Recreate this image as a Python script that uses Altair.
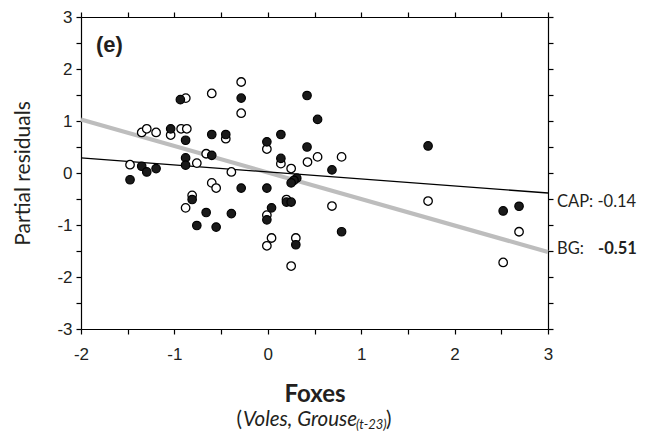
import altair as alt
import pandas as pd

# ---- data ----
open_x = [-0.285, -0.60, -0.878, -0.285, -1.35, -1.296, -1.196, -1.04, -0.928, -0.867,
          -0.45, -0.01, 0.533, 0.425, 0.79, -0.66, -0.76, 0.14, 0.25, -1.475,
          -0.39, -0.60, -0.553, -0.81, -0.88, 0.20, -0.01, -0.01, 0.04, 0.30,
          0.25, 0.687, 1.716, 2.69, 2.52]
open_y = [1.75, 1.53, 1.44, 1.15, 0.78, 0.85, 0.78, 0.73, 0.85, 0.85,
          0.66, 0.46, 0.31, 0.21, 0.31, 0.37, 0.19, 0.18, 0.085, 0.16,
          0.02, -0.19, -0.29, -0.43, -0.67, -0.51, -0.81, -1.40, -1.25, -1.25,
          -1.79, -0.635, -0.54, -1.13, -1.72]

filled_x = [-0.936, -0.285, 0.42, 0.533, -1.04, -0.88, -0.60, -0.45, -0.01, 0.14,
            0.42, 0.687, -0.60, -0.88, -0.88, 0.14, -1.475, -1.35, -1.296, -1.196,
            0.31, 0.28, 0.25, -0.285, -0.01, -0.81, -0.66, -0.39, 0.04, 0.20,
            0.25, -0.01, -0.76, -0.553, 0.30, 0.79, 1.716, 2.52, 2.69]
filled_y = [1.41, 1.44, 1.49, 1.03, 0.85, 0.63, 0.74, 0.74, 0.60, 0.74,
            0.50, 0.06, 0.34, 0.29, 0.15, 0.28, -0.13, 0.13, 0.02, 0.085,
            -0.10, -0.14, -0.19, -0.29, -0.29, -0.51, -0.76, -0.78, -0.67, -0.56,
            -0.56, -0.90, -1.01, -1.04, -1.38, -1.13, 0.52, -0.73, -0.64]

line_x = [-2, 3]
cap_y = [0.29, -0.385]
bg_y = [1.03, -1.52]

x_ticks = [-2, -1.5, -1, -0.5, 0, 0.5, 1, 1.5, 2, 2.5, 3]
y_ticks = [-3, -2.5, -2, -1.5, -1, -0.5, 0, 0.5, 1, 1.5, 2, 2.5, 3]

cap_label = ["CAP: -0.14"]
bg_label = ["BG:"]
bg_value = ["-0.51"]
panel_label = ["(e)"]
sub_parts = ["(", "Voles, Grouse", "(t-23)", ")"]

W, H = 467, 312
INK = "#231f20"
xs = alt.Scale(domain=[-2, 3], nice=False, zero=False)
ys = alt.Scale(domain=[-3, 3], nice=False, zero=False)
lab_expr = "datum.value % 1 == 0 ? toString(datum.value) : ''"

ax_common = dict(grid=False, domainColor="black", domainWidth=1.2,
                 tickColor="black", tickWidth=1.2, tickSize=5)

open_df = pd.DataFrame({"x": open_x, "y": open_y})
filled_df = pd.DataFrame({"x": filled_x, "y": filled_y})
cap_df = pd.DataFrame({"x": line_x, "y": cap_y})
bg_df = pd.DataFrame({"x": line_x, "y": bg_y})

bg_line = alt.Chart(bg_df).mark_line(color="#bdbdbd", strokeWidth=4.2).encode(
    x=alt.X("x:Q", scale=xs, axis=alt.Axis(orient="top", values=x_ticks, labels=False,
                                           title=None, **ax_common)),
    y=alt.Y("y:Q", scale=ys, axis=alt.Axis(orient="right", values=y_ticks, labels=False,
                                           title=None, **ax_common)),
)
cap_line = alt.Chart(cap_df).mark_line(color="black", strokeWidth=1.3).encode(
    x=alt.X("x:Q", scale=xs, axis=None),
    y=alt.Y("y:Q", scale=ys, axis=None),
)
open_pts = alt.Chart(open_df).mark_circle(
    size=72, fill="white", stroke="black", strokeWidth=1.3, opacity=1, fillOpacity=1
).encode(
    x=alt.X("x:Q", scale=xs, axis=None),
    y=alt.Y("y:Q", scale=ys, axis=None),
)
filled_pts = alt.Chart(filled_df).mark_circle(
    size=72, fill="#1a1a1a", stroke="black", strokeWidth=1.2, opacity=1, fillOpacity=1
).encode(
    x=alt.X("x:Q", scale=xs, axis=alt.Axis(
        orient="bottom", values=x_ticks, labelExpr=lab_expr, title="Foxes",
        labelFont="Liberation Sans", labelFontSize=17, labelColor=INK, labelPadding=12,
        labelFlush=False,
        titleFont="Lato", titleFontSize=24, titleFontWeight="bold", titleColor=INK,
        titlePadding=20, **ax_common)),
    y=alt.Y("y:Q", scale=ys, axis=alt.Axis(
        orient="left", values=y_ticks, labelExpr=lab_expr, title="Partial residuals",
        labelFont="Liberation Sans", labelFontSize=17, labelColor=INK, labelPadding=4,
        labelFlush=False,
        titleFont="Lato", titleFontSize=21, titleFontWeight="normal", titleColor=INK,
        titlePadding=23, **ax_common)),
)

def txt(values, x, y, size, font="Lato", weight="normal", style="normal",
        align="left", baseline="middle"):
    return alt.Chart(pd.DataFrame({"t": values})).mark_text(
        font=font, fontSize=size, fontWeight=weight, fontStyle=style,
        align=align, baseline=baseline, color=INK
    ).encode(x=alt.value(x), y=alt.value(y), text="t:N")

t_cap = txt(cap_label, 476, 185, 16.5)
t_bg = txt(bg_label, 476, 232, 16.5)
t_bgv = txt(bg_value, 517, 232, 16.5, weight="bold")
t_e = txt(panel_label, 15, 28, 22, font="Liberation Sans", weight="bold")

t_s1 = txt([sub_parts[0]], 155.5, 409, 20.5, baseline="alphabetic")
t_s2 = txt([sub_parts[1]], 162, 409, 20.5, style="italic", baseline="alphabetic")
t_s3 = txt([sub_parts[2]], 275, 412, 13, style="italic", baseline="alphabetic")
t_s4 = txt([sub_parts[3]], 305, 409, 20.5, baseline="alphabetic")

chart = alt.layer(
    bg_line, cap_line, open_pts, filled_pts,
    t_cap, t_bg, t_bgv, t_e, t_s1, t_s2, t_s3, t_s4
).resolve_axis(x="independent", y="independent").properties(
    width=W, height=H,
    autosize=alt.AutoSizeParams(type="none"),
    padding={"left": 73, "top": 9, "right": 90, "bottom": 105},
).configure_view(strokeWidth=0).configure(background="white")

chart.save("out.html", embed_options={"renderer": "svg", "actions": False})
